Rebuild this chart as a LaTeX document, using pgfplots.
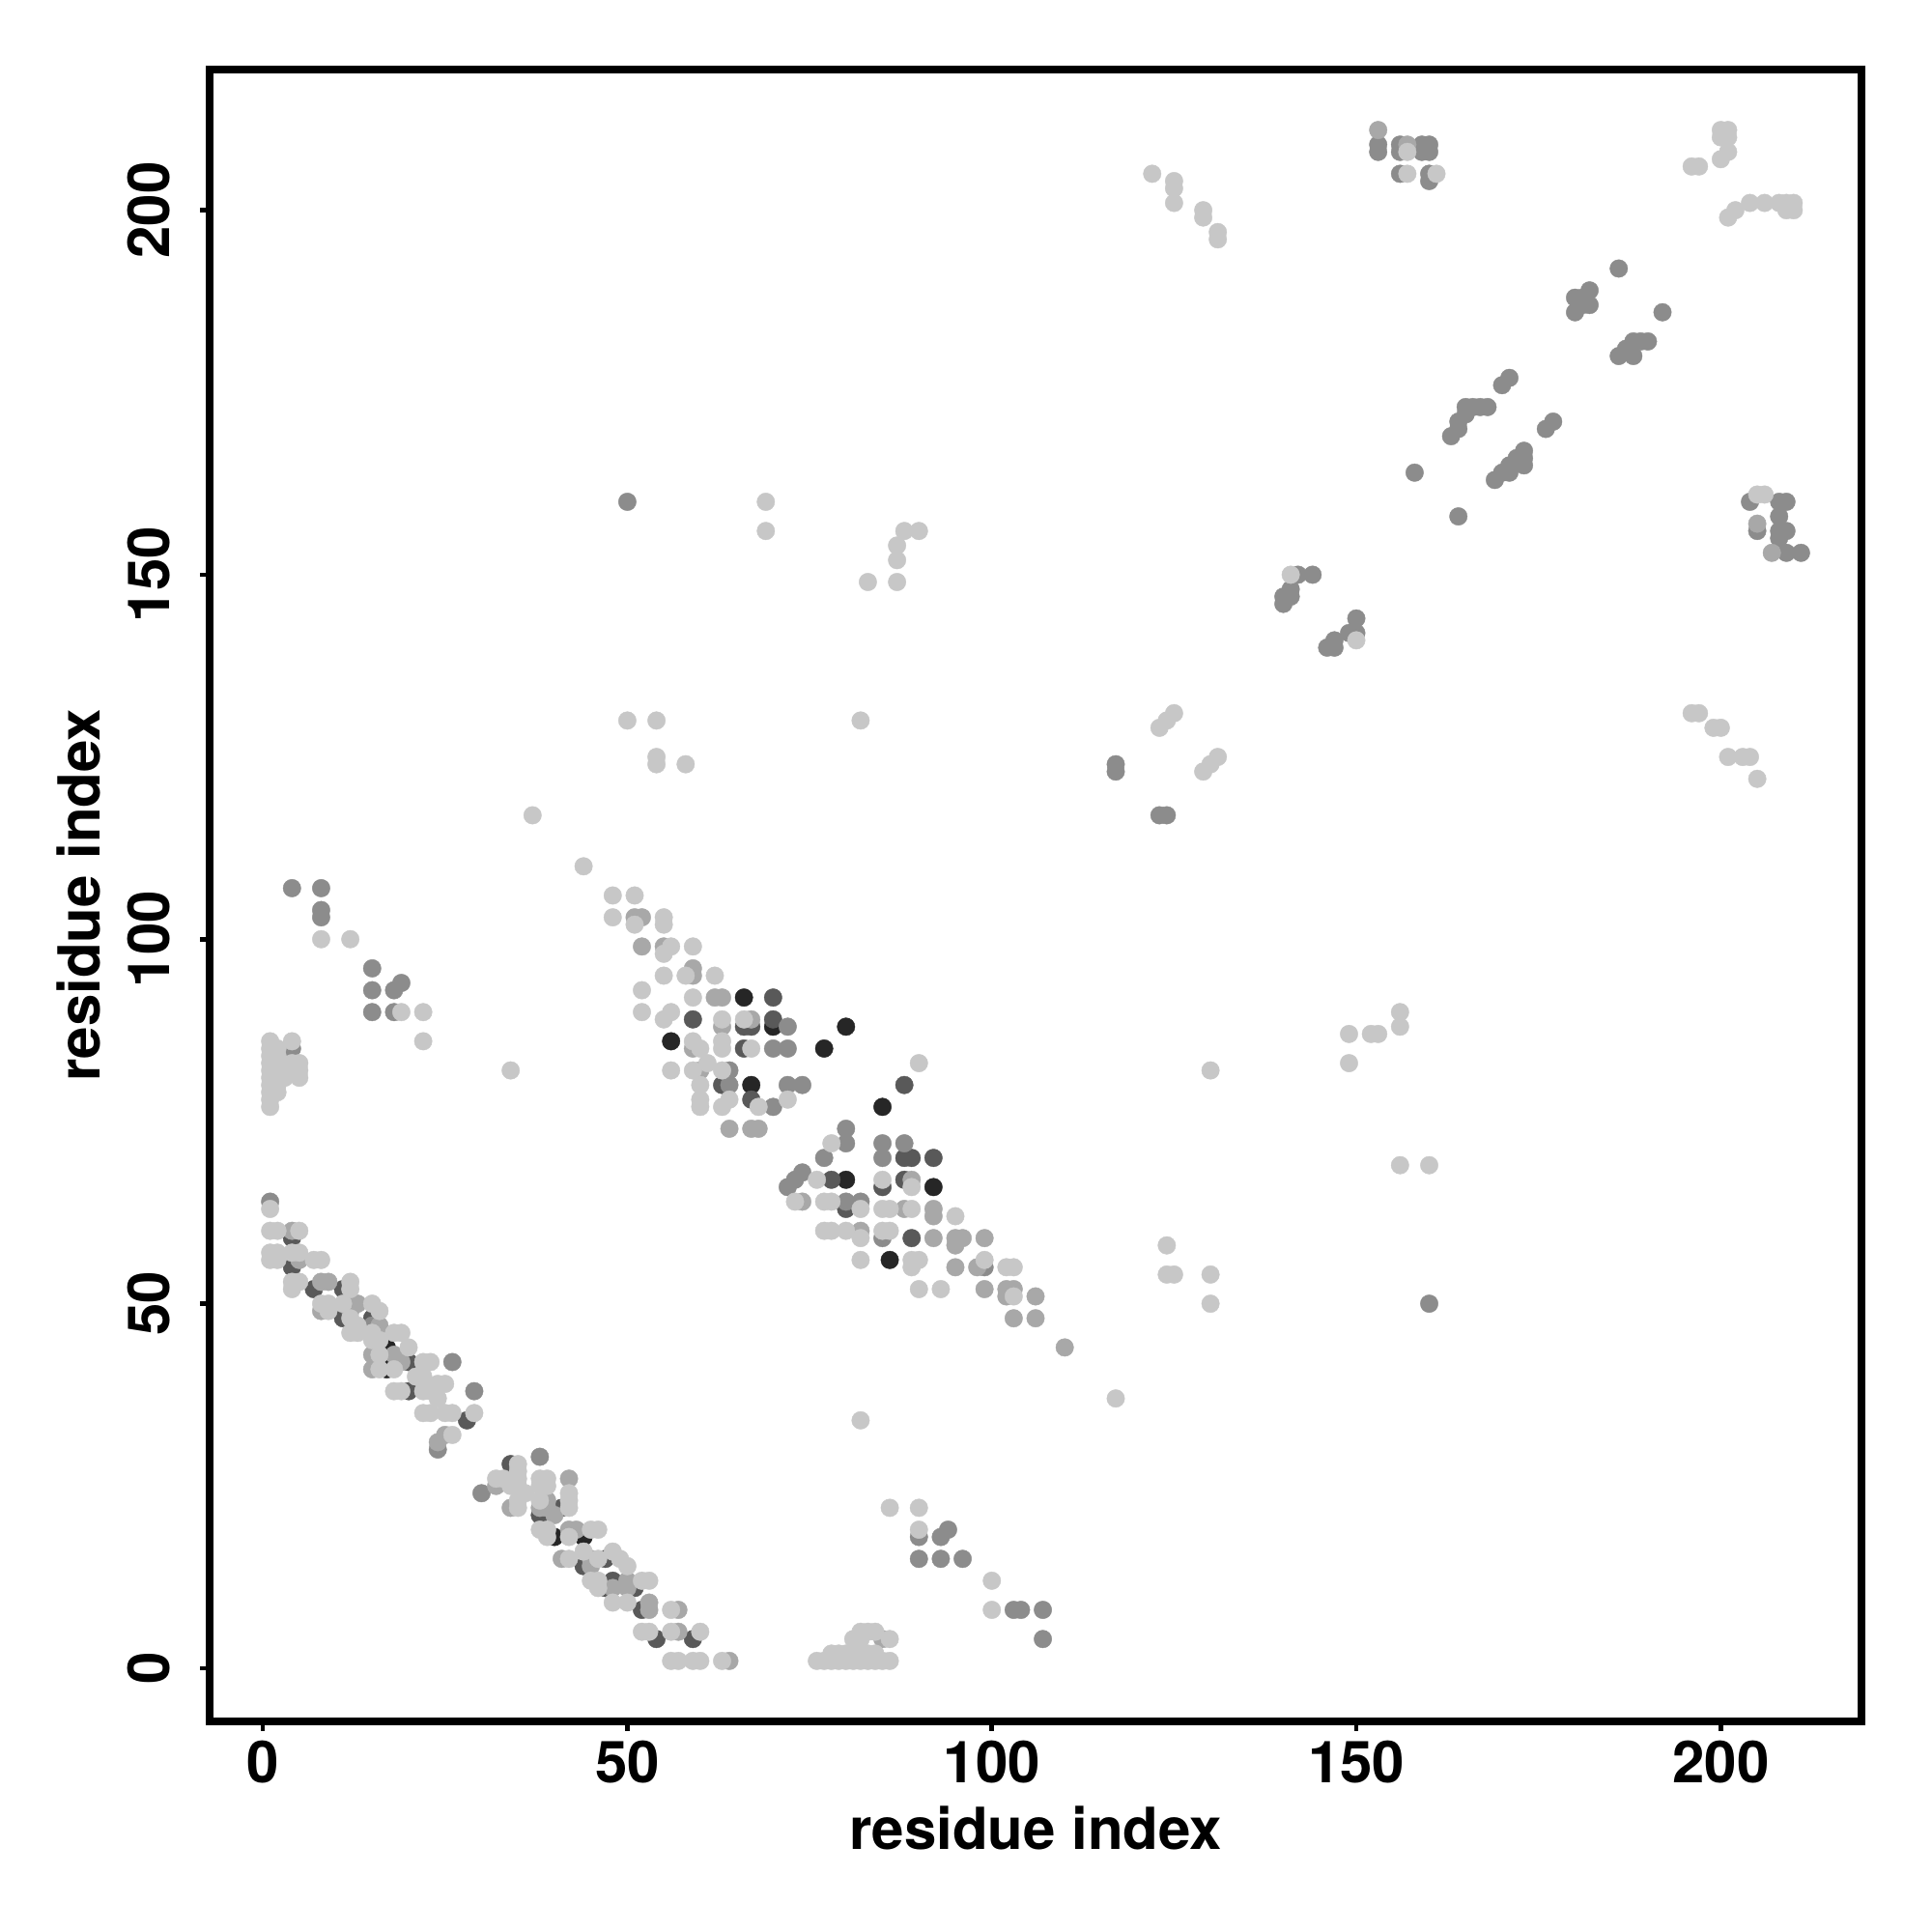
\documentclass[border=0pt]{standalone}
\usepackage{fontspec}
\setmainfont{TeX Gyre Heros}
\usepackage{pgfplots}
\pgfplotsset{compat=1.18}
\definecolor{cL}{gray}{0.78}
\definecolor{cM}{gray}{0.66}
\definecolor{cD}{gray}{0.55}
\definecolor{cDD}{gray}{0.35}
\definecolor{cK}{gray}{0.15}
\begin{document}
\begin{tikzpicture}
\path[use as bounding box] (-54.25pt,-54.5pt) rectangle (445.75pt,445.5pt);
\begin{axis}[at={(0pt,0pt)}, anchor=south west, scale only axis,
  width=427.5pt, height=427.5pt,
  xmin=-7.3, xmax=219.3, ymin=-7.3, ymax=219.3,
  axis line style={line width=2pt},
  xtick={0,50,100,150,200}, ytick={0,50,100,150,200},
  tick align=outside, xtick pos=left, ytick pos=left,
  major tick length=2.4pt,
  tick style={line width=1.2pt, black},
  ticklabel style={font=\fontsize{15}{18}\selectfont\bfseries},
  /pgf/number format/assume math mode=true,
  yticklabel style={rotate=90, anchor=south},
  yticklabel shift=4.2pt,
  xticklabel shift=-1pt,
  xlabel={residue index}, ylabel={residue index},
  label style={font=\fontsize{15}{18}\selectfont\bfseries},
  xlabel style={at={(axis description cs:0.5,-0.0643)}, anchor=center},
  ylabel style={at={(axis description cs:-0.0795,0.5)}, anchor=center},
  every axis plot/.append style={only marks, mark=*, mark size=2.3pt, line width=0.1pt},
]
% darkest
\addplot[color=cK] coordinates {(17,44)(17,41)(40,18)(44,18)(66,92)(70,88)(56,86)(77,85)(67,80)(80,88)(85,77)(80,67)(92,66)(86,56)};
% dark-dark
\addplot[color=cDD] coordinates {(4,59)(4,55)(7,52)(11,52)(11,48)(15,48)(20,42)(20,38)(28,34)
(34,28)(38,21)(41,22)(44,14)(47,15)(48,12)(47,11)(51,11)(52,8)(54,4)(59,4)
(70,92)(59,89)(66,88)(67,88)(70,89)(66,85)(63,80)(67,78)
(88,80)(88,70)(89,70)(92,70)(78,67)(85,66)(88,67)(80,63)(89,59)};
% dark
\addplot[color=cD] coordinates {(1,64)(15,47)(26,42)(29,38)(24,30)(30,24)(38,29)
(72,88)(70,85)(72,85)(64,82)(64,80)(72,80)(74,80)(70,77)
(80,74)(80,72)(85,72)(88,72)(85,70)(77,70)(74,68)(73,67)(72,66)(80,64)(82,64)(85,59)(99,55)
(4,107)(8,107)(8,104)(8,103)(15,96)(15,93)(19,94)(18,93)(15,90)(18,90)(4,85)
(90,18)(93,18)(94,19)(90,15)(93,15)(96,15)(103,8)(104,8)(107,8)(107,4)
(50,160)(160,50)(117,124)(117,123)(123,117)(124,117)
(186,192)(180,186)(180,188)(181,187)(182,187)(182,189)(181,188)(192,186)(186,180)(187,181)(188,182)(188,180)(189,182)(190,182)
(171,177)(170,176)(163,169)(164,170)(164,171)(165,172)(165,173)(166,173)(167,173)(168,173)(177,171)(176,170)
(169,163)(170,164)(171,164)(171,165)(172,166)(173,165)(173,166)(173,167)(158,164)(164,158)
(142,150)(144,150)(140,147)(140,146)(141,147)(141,148)(150,144)(150,142)(147,141)(146,140)(147,140)(149,142)
(153,209)(153,208)(156,209)(156,208)(159,209)(160,209)(159,208)(160,208)(156,205)(160,205)(160,204)
(204,160)(208,160)(209,160)(208,158)(208,156)(209,156)(208,155)(205,156)(209,153)(211,153)};
% medium
\addplot[color=cM] coordinates {(4,60)(5,56)(8,53)(9,53)(13,50)(8,49)(12,50)(12,49)(15,43)(15,41)(18,43)(19,42)(25,32)(24,31)(16,47)
(32,25)(34,22)(39,23)(39,22)(38,22)(42,26)(40,21)(42,19)(43,19)(41,15)(45,15)(45,14)(48,11)(50,12)(53,9)(53,8)(57,5)(64,1)(57,8)(50,11)
(51,103)(52,103)(52,99)(55,99)(59,96)(59,95)(62,92)(63,92)(67,89)(63,88)(59,85)(60,82)(64,74)(67,74)(68,74)
(89,67)(74,64)(88,63)(92,63)(92,62)(82,60)(92,59)(95,59)(96,59)(95,58)(99,59)(95,55)(98,55)(99,52)(102,52)(103,52)(102,51)(106,51)(103,48)(106,48)(110,44)
(153,211)(157,209)(207,153)(205,157)(85,4)};
% light
\addplot[color=cL] coordinates {(1,63)(1,60)(2,60)(5,60)(1,57)(2,57)(1,56)(2,56)(4,57)(5,57)(7,56)(8,56)(4,53)(5,53)(4,52)(12,53)(12,52)
(8,50)(9,50)(11,50)(9,49)(12,48)(13,46)(12,46)(13,47)(15,50)(16,49)(15,46)(15,45)(18,46)(19,46)(16,43)(16,41)(18,41)(22,42)(23,42)
(18,38)(19,38)(22,38)(23,38)(24,39)(25,39)(22,35)(23,35)(25,35)(26,35)(29,35)(26,32)(21,40)(22,40)(24,37)(20,44)(16,45)
(32,26)(33,26)(35,28)(35,27)(35,26)(35,25)(34,25)(35,23)(35,22)(38,26)(39,26)(38,25)(39,25)(38,23)(42,24)(42,23)(42,22)
(38,19)(39,19)(39,18)(42,18)(45,19)(46,19)(42,15)(46,15)(48,16)(49,15)(45,12)(46,12)(46,11)(52,12)(53,12)(48,9)(50,9)(56,8)
(52,5)(53,5)(56,5)(60,5)(56,1)(57,1)(59,1)(60,1)(63,1)(44,16)(50,14)(36,24)
(44,110)(48,106)(51,106)(48,103)(51,102)(55,103)(55,102)(56,99)(55,98)(59,99)(55,95)(58,95)(62,95)(52,93)(59,92)(52,90)(55,89)(56,90)
(63,89)(66,89)(59,86)(60,85)(63,86)(63,85)(67,85)(56,82)(59,82)(63,82)(60,80)(60,77)(63,77)(64,78)(68,77)(72,78)(60,78)(61,83)(90,83)
(78,72)(76,67)(85,67)(89,66)(73,64)(77,64)(78,64)(82,63)(85,63)(86,63)(89,63)(95,62)(77,60)(78,60)(80,60)(82,59)(85,60)(86,60)
(82,56)(89,56)(90,56)(89,55)(99,56)(102,55)(103,55)(90,52)(93,52)(103,51)
(8,100)(12,100)(19,90)(22,90)(22,86)
(1,77)(1,78)(1,79)(1,80)(1,81)(1,82)(1,83)(1,84)(1,85)(1,86)(2,79)(2,80)(2,81)(2,82)(2,83)(2,84)(2,85)(3,81)(3,82)
(4,86)(4,83)(4,82)(5,83)(5,81)(5,82)(34,82)
(82,34)(86,22)(90,22)(90,19)(100,12)(100,8)
(76,1)(77,1)(78,1)(79,1)(80,1)(81,1)(82,1)(83,1)(84,1)(85,1)(86,1)(78,2)(79,2)(80,2)(81,2)(82,2)(83,2)(84,2)(81,4)(82,4)(82,5)(83,5)(84,5)(86,4)
(69,160)(69,156)(83,149)(87,149)(87,152)(87,154)(88,156)(90,156)(50,130)(54,130)(54,125)(54,124)(58,124)(82,130)(37,117)
(149,83)(149,87)(152,87)(153,87)(156,88)(156,90)(156,69)(160,69)(130,82)(124,58)(124,54)(125,54)(130,54)(130,50)(117,37)
(141,150)(150,141)
(123,129)(124,130)(125,131)(129,123)(130,124)(131,125)(196,131)(197,131)(199,129)(200,129)(201,125)(203,125)(204,125)(205,122)
(122,205)(125,204)(125,203)(125,201)(129,200)(129,199)(131,197)(131,196)(157,208)(157,205)(161,205)
(196,206)(197,206)(200,207)(201,208)(200,210)(201,210)(200,211)(201,211)
(201,199)(202,200)(204,201)(206,201)(208,201)(209,201)(210,201)(209,200)(210,200)
(205,161)(206,161)};
\end{axis}
\end{tikzpicture}
\end{document}
